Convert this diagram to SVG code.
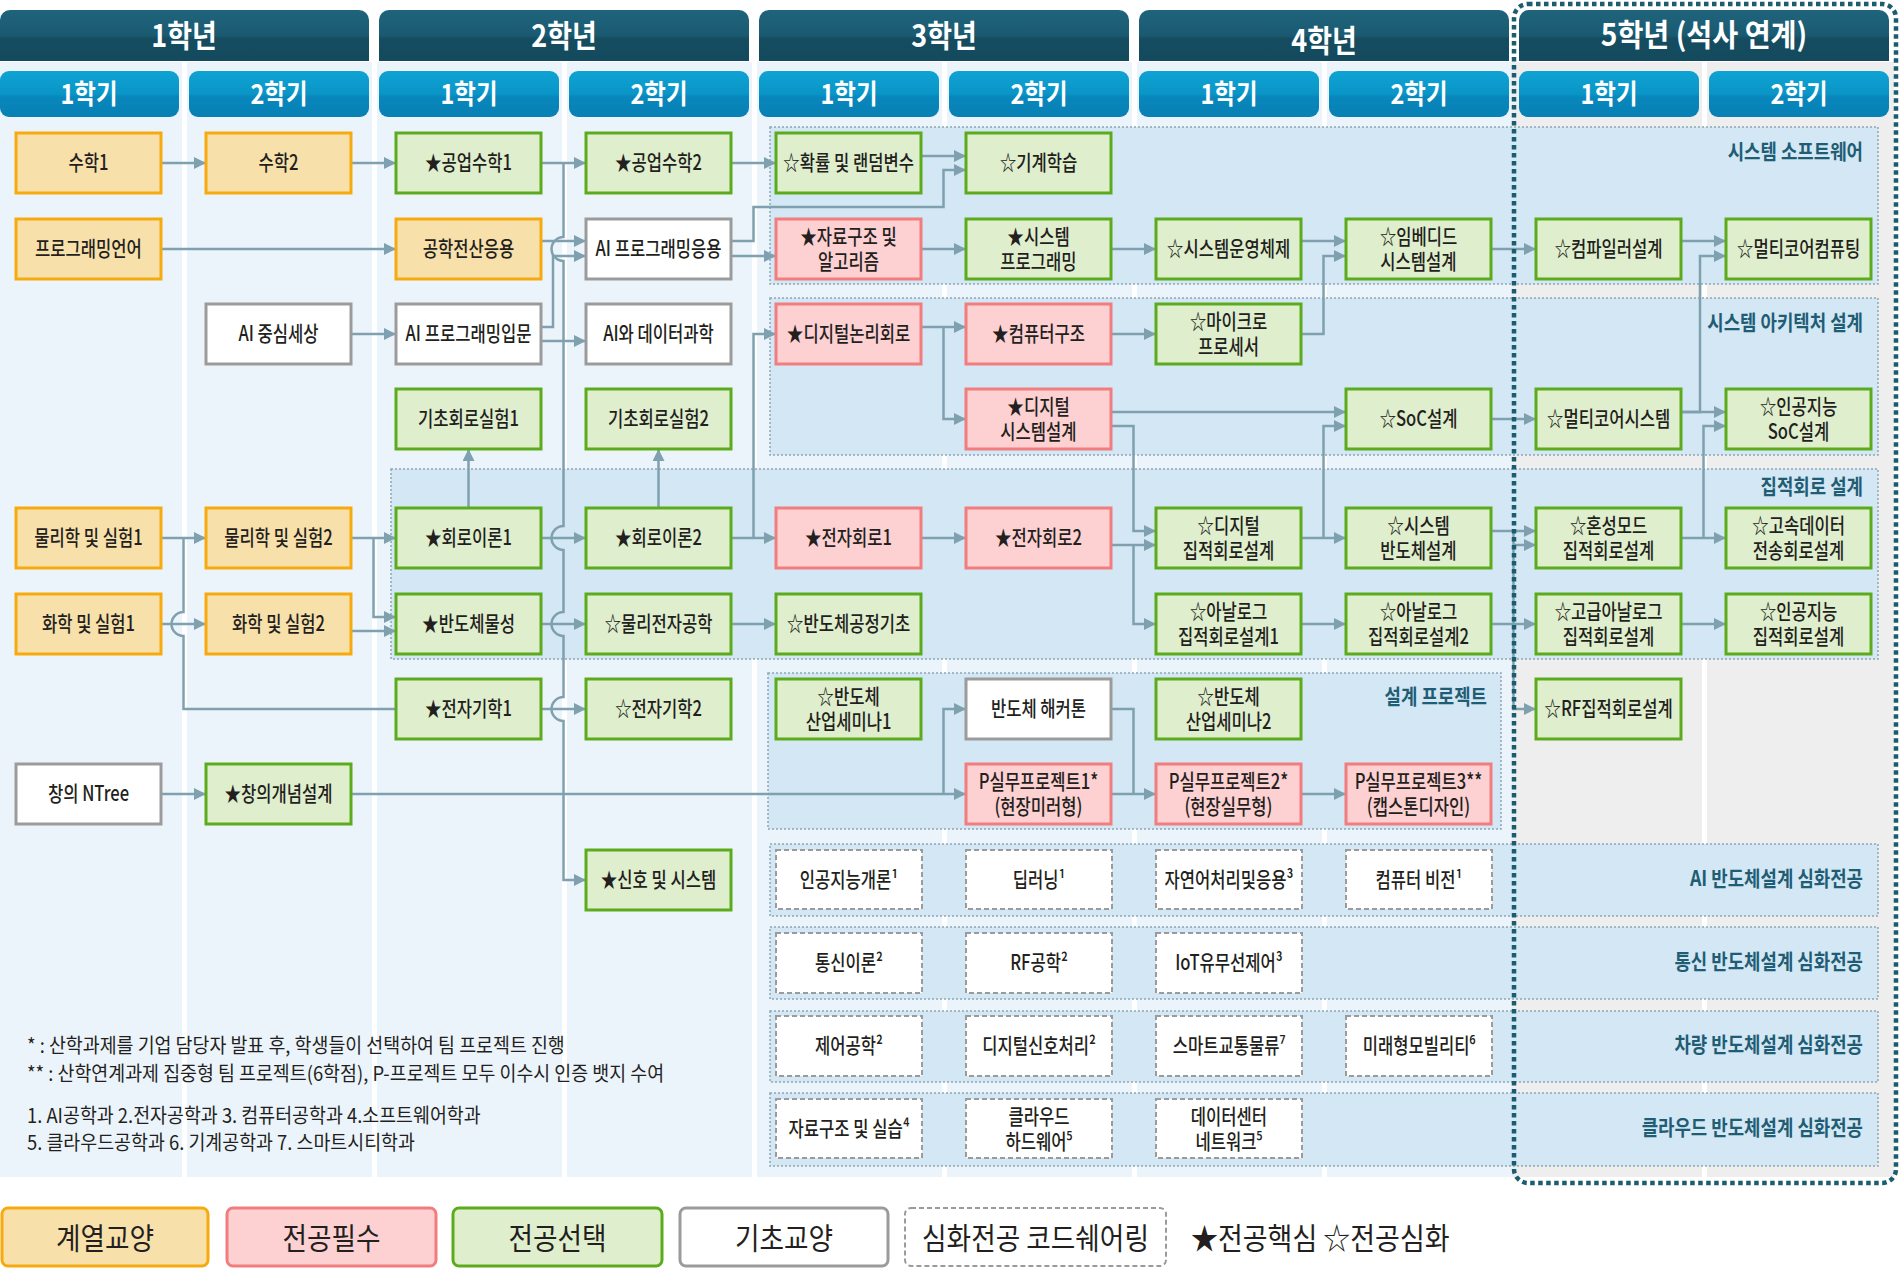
<svg xmlns="http://www.w3.org/2000/svg" width="1900" height="1271" viewBox="0 0 1900 1271">
<defs>
<linearGradient id="gy" x1="0" y1="0" x2="0" y2="1"><stop offset="0" stop-color="#1f647c"/><stop offset="0.5" stop-color="#1a5a71"/><stop offset="0.56" stop-color="#164c60"/><stop offset="1" stop-color="#144a5d"/></linearGradient>
<linearGradient id="gs" x1="0" y1="0" x2="0" y2="1"><stop offset="0" stop-color="#0ea3d3"/><stop offset="0.5" stop-color="#0a95c7"/><stop offset="0.56" stop-color="#0887bc"/><stop offset="1" stop-color="#0880b4"/></linearGradient>
<marker id="ah" markerUnits="userSpaceOnUse" markerWidth="12" markerHeight="12" refX="12" refY="6" orient="auto"><path d="M0,0 L12,6 L0,12 Z" fill="#7fa1af"/></marker>
<style>
.col{fill:#ecf4fb}
.col5{fill:#eeeeee}
.yh{fill:url(#gy)}
.sh{fill:url(#gs)}
.ht{font-family:"Noto Sans CJK KR","Noto Sans",sans-serif;font-weight:700;fill:#fff;text-anchor:middle;dominant-baseline:central;transform-box:fill-box;transform-origin:center}
.yt{font-size:31px;transform:translateY(-2px) scaleX(0.87)}
.yt5{font-size:31px;transform:translateY(-2px) scaleX(0.91)}
.st{font-size:27px;transform:translateY(-1.5px) scaleX(0.87)}
.pnl{fill:#d3e7f4;stroke:#8ea7b4;stroke-width:1.5;stroke-dasharray:2 2}
.pl{font-family:"Noto Sans CJK KR","Noto Sans",sans-serif;font-weight:700;font-size:21px;fill:#1f5d75;text-anchor:end;dominant-baseline:central;transform-box:fill-box;transform-origin:right center;transform:translateY(-2px) scaleX(0.85)}
.o{fill:#f8e0ab;stroke:#f6aa0e;stroke-width:3}
.p{fill:#fdd0d1;stroke:#f27d7e;stroke-width:3}
.g{fill:#dfeecd;stroke:#5cab1c;stroke-width:3}
.w{fill:#fff;stroke:#9b9b9b;stroke-width:3}
.d{fill:#fff;stroke:#9b9b9b;stroke-width:2;stroke-dasharray:5 3}
.t{font-family:"Noto Sans CJK KR","Noto Sans",sans-serif;font-weight:500;font-size:21px;fill:#231f20;text-anchor:middle;dominant-baseline:central;transform-box:fill-box;transform-origin:center;transform:translateY(-2px) scaleX(0.79)}
.cn{fill:none;stroke:#7fa1af;stroke-width:2.5}
.ar{marker-end:url(#ah)}
.nt{font-family:"Noto Sans CJK KR","Noto Sans",sans-serif;font-size:20px;fill:#231f20;dominant-baseline:central;transform-box:fill-box;transform-origin:left center;transform:translateY(-1px) scaleX(0.92)}
.lg{font-family:"Noto Sans CJK KR","Noto Sans",sans-serif;font-size:30px;fill:#231f20;text-anchor:middle;dominant-baseline:central;transform-box:fill-box;transform-origin:center;transform:translateY(-1px) scaleX(0.89)}
.lgl{font-family:"Noto Sans CJK KR","Noto Sans",sans-serif;font-size:30px;fill:#231f20;dominant-baseline:central;transform-box:fill-box;transform-origin:left center;transform:translateY(-1px) scaleX(0.9)}
.fr{fill:none;stroke:#1b5d70;stroke-width:4.5;stroke-dasharray:4.5 3.5}
</style>
</defs>
<rect width="1900" height="1271" fill="#fff"/>
<g id="columns">
<rect class="col" x="0" y="62" width="182" height="1115"/>
<rect class="col" x="187" y="62" width="185" height="1115"/>
<rect class="col" x="377" y="62" width="185" height="1115"/>
<rect class="col" x="567" y="62" width="185" height="1115"/>
<rect class="col" x="757" y="62" width="185" height="1115"/>
<rect class="col" x="947" y="62" width="185" height="1115"/>
<rect class="col" x="1137" y="62" width="185" height="1115"/>
<rect class="col" x="1327" y="62" width="185" height="1115"/>
<rect class="col5" x="1512" y="62" width="190" height="1115"/>
<rect class="col5" x="1707" y="62" width="187" height="1115"/>
</g>
<g id="headers">
<path class="yh" d="M0,61 V20 A10,10 0 0 1 10,10 H359 A10,10 0 0 1 369,20 V61 Z"/>
<path class="yh" d="M379,61 V20 A10,10 0 0 1 389,10 H739 A10,10 0 0 1 749,20 V61 Z"/>
<path class="yh" d="M759,61 V20 A10,10 0 0 1 769,10 H1119 A10,10 0 0 1 1129,20 V61 Z"/>
<path class="yh" d="M1139,61 V20 A10,10 0 0 1 1149,10 H1499 A10,10 0 0 1 1509,20 V61 Z"/>
<path class="yh" d="M1519,61 V20 A10,10 0 0 1 1529,10 H1879 A10,10 0 0 1 1889,20 V61 Z"/>
<text class="ht yt" x="184" y="35">1학년</text>
<text class="ht yt" x="564" y="35">2학년</text>
<text class="ht yt" x="944" y="35">3학년</text>
<text class="ht yt" x="1324" y="40">4학년</text>
<text class="ht yt5" x="1704" y="35">5학년 (석사 연계)</text>
<rect class="sh" x="0" y="71" width="179" height="46" rx="9"/>
<rect class="sh" x="189" y="71" width="180" height="46" rx="9"/>
<rect class="sh" x="379" y="71" width="180" height="46" rx="9"/>
<rect class="sh" x="569" y="71" width="180" height="46" rx="9"/>
<rect class="sh" x="759" y="71" width="180" height="46" rx="9"/>
<rect class="sh" x="949" y="71" width="180" height="46" rx="9"/>
<rect class="sh" x="1139" y="71" width="180" height="46" rx="9"/>
<rect class="sh" x="1329" y="71" width="180" height="46" rx="9"/>
<rect class="sh" x="1519" y="71" width="180" height="46" rx="9"/>
<rect class="sh" x="1709" y="71" width="180" height="46" rx="9"/>
<text class="ht st" x="89" y="94">1학기</text>
<text class="ht st" x="279" y="94">2학기</text>
<text class="ht st" x="469" y="94">1학기</text>
<text class="ht st" x="659" y="94">2학기</text>
<text class="ht st" x="849" y="94">1학기</text>
<text class="ht st" x="1039" y="94">2학기</text>
<text class="ht st" x="1229" y="94">1학기</text>
<text class="ht st" x="1419" y="94">2학기</text>
<text class="ht st" x="1609" y="94">1학기</text>
<text class="ht st" x="1799" y="94">2학기</text>
</g>
<g id="panels">
<rect class="pnl" x="770" y="127" width="1108" height="157"/>
<rect class="pnl" x="770" y="298" width="1108" height="157"/>
<rect class="pnl" x="391" y="469" width="1487" height="190"/>
<rect class="pnl" x="768" y="673" width="733" height="156"/>
<rect class="pnl" x="770" y="844" width="1108" height="72"/>
<rect class="pnl" x="770" y="927" width="1108" height="72"/>
<rect class="pnl" x="770" y="1011" width="1108" height="71"/>
<rect class="pnl" x="770" y="1093" width="1108" height="73"/>
<text class="pl" x="1863" y="152">시스템 소프트웨어</text>
<text class="pl" x="1863" y="323">시스템 아키텍처 설계</text>
<text class="pl" x="1863" y="487">집적회로 설계</text>
<text class="pl" x="1487" y="697">설계 프로젝트</text>
<text class="pl" x="1863" y="879">AI 반도체설계 심화전공</text>
<text class="pl" x="1863" y="962">통신 반도체설계 심화전공</text>
<text class="pl" x="1863" y="1045">차량 반도체설계 심화전공</text>
<text class="pl" x="1863" y="1128">클라우드 반도체설계 심화전공</text>
</g>
<g id="connectors">
<path class="cn ar" d="M161,163 H206"/>
<path class="cn ar" d="M351,163 H396"/>
<path class="cn ar" d="M541,163 H586"/>
<path class="cn ar" d="M563.5,163 V237 A12,12 0 0 0 563.5,261 V526 A12,12 0 0 0 563.5,550 V612 A12,12 0 0 0 563.5,636 V697 A12,12 0 0 0 563.5,721 V880 H586"/>
<path class="cn ar" d="M161,249 H396"/>
<path class="cn ar" d="M541,241 H586"/>
<path class="cn ar" d="M541,327 H553 V256 H586"/>
<path class="cn ar" d="M541,341 H586"/>
<path class="cn ar" d="M351,334 H396"/>
<path class="cn ar" d="M731,163 H776"/>
<path class="cn ar" d="M921,156 H966"/>
<path class="cn ar" d="M731,241 H753.5 V207 H943.5 V170 H966"/>
<path class="cn ar" d="M731,256 H776"/>
<path class="cn ar" d="M921,249 H966"/>
<path class="cn ar" d="M1111,249 H1156"/>
<path class="cn ar" d="M1301,241 H1346"/>
<path class="cn ar" d="M1301,334 H1323.5 V256 H1346"/>
<path class="cn ar" d="M1491,249 H1536"/>
<path class="cn ar" d="M1681,241 H1726"/>
<path class="cn ar" d="M1681,412 H1700 V256 H1726"/>
<path class="cn ar" d="M1681,412 H1726"/>
<path class="cn ar" d="M1491,419 H1536"/>
<path class="cn ar" d="M921,327 H966"/>
<path class="cn ar" d="M943.5,327 V419 H966"/>
<path class="cn ar" d="M1111,334 H1156"/>
<path class="cn ar" d="M1111,412 H1346"/>
<path class="cn ar" d="M1111,426 H1133.5 V531 H1156"/>
<path class="cn ar" d="M1111,545 H1156"/>
<path class="cn ar" d="M1133.5,545 V624 H1156"/>
<path class="cn ar" d="M921,538 H966"/>
<path class="cn ar" d="M731,538 H776"/>
<path class="cn ar" d="M753.5,538 V334 H776"/>
<path class="cn ar" d="M1301,538 H1346"/>
<path class="cn ar" d="M1323.5,538 V426 H1346"/>
<path class="cn ar" d="M1301,624 H1346"/>
<path class="cn ar" d="M1491,531 H1536"/>
<path class="cn ar" d="M1513.5,531 V709 H1536"/>
<path class="cn ar" d="M1513.5,545 H1536"/>
<path class="cn ar" d="M1491,624 H1536"/>
<path class="cn ar" d="M1681,538 H1726"/>
<path class="cn ar" d="M1703.5,538 V426 H1726"/>
<path class="cn ar" d="M1681,624 H1726"/>
<path class="cn ar" d="M161,538 H206"/>
<path class="cn" d="M183.5,538 V612 A12,12 0 0 0 183.5,636 V709 H396"/>
<path class="cn ar" d="M161,624 H206"/>
<path class="cn ar" d="M351,538 H396"/>
<path class="cn ar" d="M373.5,538 V617 H396"/>
<path class="cn ar" d="M351,631 H396"/>
<path class="cn ar" d="M541,538 H586"/>
<path class="cn ar" d="M541,624 H586"/>
<path class="cn ar" d="M541,709 H586"/>
<path class="cn ar" d="M468.5,508 V449"/>
<path class="cn ar" d="M658.5,508 V449"/>
<path class="cn ar" d="M731,624 H776"/>
<path class="cn ar" d="M161,794 H206"/>
<path class="cn ar" d="M351,794 H966"/>
<path class="cn ar" d="M943.5,794 V709 H966"/>
<path class="cn ar" d="M1111,794 H1156"/>
<path class="cn" d="M1111,709 H1133.5 V794"/>
<path class="cn ar" d="M1301,794 H1346"/>
</g>
<g id="n-math1"><rect class="o" x="16" y="133" width="145" height="60"/><text class="t" x="88.5" y="163">수학1</text></g>
<g id="n-math2"><rect class="o" x="206" y="133" width="145" height="60"/><text class="t" x="278.5" y="163">수학2</text></g>
<g id="n-engmath1"><rect class="g" x="396" y="133" width="145" height="60"/><text class="t" x="468.5" y="163">★공업수학1</text></g>
<g id="n-engmath2"><rect class="g" x="586" y="133" width="145" height="60"/><text class="t" x="658.5" y="163">★공업수학2</text></g>
<g id="n-prob"><rect class="g" x="776" y="133" width="145" height="60"/><text class="t" x="848.5" y="163">☆확률 및 랜덤변수</text></g>
<g id="n-ml"><rect class="g" x="966" y="133" width="145" height="60"/><text class="t" x="1038.5" y="163">☆기계학습</text></g>
<g id="n-proglang"><rect class="o" x="16" y="219" width="145" height="60"/><text class="t" x="88.5" y="249">프로그래밍언어</text></g>
<g id="n-engcomp"><rect class="o" x="396" y="219" width="145" height="60"/><text class="t" x="468.5" y="249">공학전산응용</text></g>
<g id="n-aiprogapp"><rect class="w" x="586" y="219" width="145" height="60"/><text class="t" x="658.5" y="249">AI 프로그래밍응용</text></g>
<g id="n-dsa"><rect class="p" x="776" y="219" width="145" height="60"/><text class="t" x="848.5" y="236.5">★자료구조 및<tspan x="848.5" y="261.5">알고리즘</tspan></text></g>
<g id="n-sysprog"><rect class="g" x="966" y="219" width="145" height="60"/><text class="t" x="1038.5" y="236.5">★시스템<tspan x="1038.5" y="261.5">프로그래밍</tspan></text></g>
<g id="n-os"><rect class="g" x="1156" y="219" width="145" height="60"/><text class="t" x="1228.5" y="249">☆시스템운영체제</text></g>
<g id="n-embedded"><rect class="g" x="1346" y="219" width="145" height="60"/><text class="t" x="1418.5" y="236.5">☆임베디드<tspan x="1418.5" y="261.5">시스템설계</tspan></text></g>
<g id="n-compiler"><rect class="g" x="1536" y="219" width="145" height="60"/><text class="t" x="1608.5" y="249">☆컴파일러설계</text></g>
<g id="n-multicorecomp"><rect class="g" x="1726" y="219" width="145" height="60"/><text class="t" x="1798.5" y="249">☆멀티코어컴퓨팅</text></g>
<g id="n-aiworld"><rect class="w" x="206" y="304" width="145" height="60"/><text class="t" x="278.5" y="334">AI 중심세상</text></g>
<g id="n-aiprogintro"><rect class="w" x="396" y="304" width="145" height="60"/><text class="t" x="468.5" y="334">AI 프로그래밍입문</text></g>
<g id="n-aidata"><rect class="w" x="586" y="304" width="145" height="60"/><text class="t" x="658.5" y="334">AI와 데이터과학</text></g>
<g id="n-digilogic"><rect class="p" x="776" y="304" width="145" height="60"/><text class="t" x="848.5" y="334">★디지털논리회로</text></g>
<g id="n-comparch"><rect class="p" x="966" y="304" width="145" height="60"/><text class="t" x="1038.5" y="334">★컴퓨터구조</text></g>
<g id="n-micro"><rect class="g" x="1156" y="304" width="145" height="60"/><text class="t" x="1228.5" y="321.5">☆마이크로<tspan x="1228.5" y="346.5">프로세서</tspan></text></g>
<g id="n-lab1"><rect class="g" x="396" y="389" width="145" height="60"/><text class="t" x="468.5" y="419">기초회로실험1</text></g>
<g id="n-lab2"><rect class="g" x="586" y="389" width="145" height="60"/><text class="t" x="658.5" y="419">기초회로실험2</text></g>
<g id="n-digisys"><rect class="p" x="966" y="389" width="145" height="60"/><text class="t" x="1038.5" y="406.5">★디지털<tspan x="1038.5" y="431.5">시스템설계</tspan></text></g>
<g id="n-soc"><rect class="g" x="1346" y="389" width="145" height="60"/><text class="t" x="1418.5" y="419">☆SoC설계</text></g>
<g id="n-multicoresys"><rect class="g" x="1536" y="389" width="145" height="60"/><text class="t" x="1608.5" y="419">☆멀티코어시스템</text></g>
<g id="n-aisoc"><rect class="g" x="1726" y="389" width="145" height="60"/><text class="t" x="1798.5" y="406.5">☆인공지능<tspan x="1798.5" y="431.5">SoC설계</tspan></text></g>
<g id="n-phys1"><rect class="o" x="16" y="508" width="145" height="60"/><text class="t" x="88.5" y="538">물리학 및 실험1</text></g>
<g id="n-phys2"><rect class="o" x="206" y="508" width="145" height="60"/><text class="t" x="278.5" y="538">물리학 및 실험2</text></g>
<g id="n-circ1"><rect class="g" x="396" y="508" width="145" height="60"/><text class="t" x="468.5" y="538">★회로이론1</text></g>
<g id="n-circ2"><rect class="g" x="586" y="508" width="145" height="60"/><text class="t" x="658.5" y="538">★회로이론2</text></g>
<g id="n-elec1"><rect class="p" x="776" y="508" width="145" height="60"/><text class="t" x="848.5" y="538">★전자회로1</text></g>
<g id="n-elec2"><rect class="p" x="966" y="508" width="145" height="60"/><text class="t" x="1038.5" y="538">★전자회로2</text></g>
<g id="n-digiic"><rect class="g" x="1156" y="508" width="145" height="60"/><text class="t" x="1228.5" y="525.5">☆디지털<tspan x="1228.5" y="550.5">집적회로설계</tspan></text></g>
<g id="n-syssemi"><rect class="g" x="1346" y="508" width="145" height="60"/><text class="t" x="1418.5" y="525.5">☆시스템<tspan x="1418.5" y="550.5">반도체설계</tspan></text></g>
<g id="n-mixed"><rect class="g" x="1536" y="508" width="145" height="60"/><text class="t" x="1608.5" y="525.5">☆혼성모드<tspan x="1608.5" y="550.5">집적회로설계</tspan></text></g>
<g id="n-highspeed"><rect class="g" x="1726" y="508" width="145" height="60"/><text class="t" x="1798.5" y="525.5">☆고속데이터<tspan x="1798.5" y="550.5">전송회로설계</tspan></text></g>
<g id="n-chem1"><rect class="o" x="16" y="594" width="145" height="60"/><text class="t" x="88.5" y="624">화학 및 실험1</text></g>
<g id="n-chem2"><rect class="o" x="206" y="594" width="145" height="60"/><text class="t" x="278.5" y="624">화학 및 실험2</text></g>
<g id="n-semimat"><rect class="g" x="396" y="594" width="145" height="60"/><text class="t" x="468.5" y="624">★반도체물성</text></g>
<g id="n-physelec"><rect class="g" x="586" y="594" width="145" height="60"/><text class="t" x="658.5" y="624">☆물리전자공학</text></g>
<g id="n-process"><rect class="g" x="776" y="594" width="145" height="60"/><text class="t" x="848.5" y="624">☆반도체공정기초</text></g>
<g id="n-analog1"><rect class="g" x="1156" y="594" width="145" height="60"/><text class="t" x="1228.5" y="611.5">☆아날로그<tspan x="1228.5" y="636.5">집적회로설계1</tspan></text></g>
<g id="n-analog2"><rect class="g" x="1346" y="594" width="145" height="60"/><text class="t" x="1418.5" y="611.5">☆아날로그<tspan x="1418.5" y="636.5">집적회로설계2</tspan></text></g>
<g id="n-advanalog"><rect class="g" x="1536" y="594" width="145" height="60"/><text class="t" x="1608.5" y="611.5">☆고급아날로그<tspan x="1608.5" y="636.5">집적회로설계</tspan></text></g>
<g id="n-aiic"><rect class="g" x="1726" y="594" width="145" height="60"/><text class="t" x="1798.5" y="611.5">☆인공지능<tspan x="1798.5" y="636.5">집적회로설계</tspan></text></g>
<g id="n-em1"><rect class="g" x="396" y="679" width="145" height="60"/><text class="t" x="468.5" y="709">★전자기학1</text></g>
<g id="n-em2"><rect class="g" x="586" y="679" width="145" height="60"/><text class="t" x="658.5" y="709">☆전자기학2</text></g>
<g id="n-seminar1"><rect class="g" x="776" y="679" width="145" height="60"/><text class="t" x="848.5" y="696.5">☆반도체<tspan x="848.5" y="721.5">산업세미나1</tspan></text></g>
<g id="n-hackathon"><rect class="w" x="966" y="679" width="145" height="60"/><text class="t" x="1038.5" y="709">반도체 해커톤</text></g>
<g id="n-seminar2"><rect class="g" x="1156" y="679" width="145" height="60"/><text class="t" x="1228.5" y="696.5">☆반도체<tspan x="1228.5" y="721.5">산업세미나2</tspan></text></g>
<g id="n-rfic"><rect class="g" x="1536" y="679" width="145" height="60"/><text class="t" x="1608.5" y="709">☆RF집적회로설계</text></g>
<g id="n-ntree"><rect class="w" x="16" y="764" width="145" height="60"/><text class="t" x="88.5" y="794">창의 NTree</text></g>
<g id="n-creative"><rect class="g" x="206" y="764" width="145" height="60"/><text class="t" x="278.5" y="794">★창의개념설계</text></g>
<g id="n-p1"><rect class="p" x="966" y="764" width="145" height="60"/><text class="t" x="1038.5" y="781.5">P실무프로젝트1*<tspan x="1038.5" y="806.5">(현장미러형)</tspan></text></g>
<g id="n-p2"><rect class="p" x="1156" y="764" width="145" height="60"/><text class="t" x="1228.5" y="781.5">P실무프로젝트2*<tspan x="1228.5" y="806.5">(현장실무형)</tspan></text></g>
<g id="n-p3"><rect class="p" x="1346" y="764" width="145" height="60"/><text class="t" x="1418.5" y="781.5">P실무프로젝트3**<tspan x="1418.5" y="806.5">(캡스톤디자인)</tspan></text></g>
<g id="n-signal"><rect class="g" x="586" y="850" width="145" height="60"/><text class="t" x="658.5" y="880">★신호 및 시스템</text></g>
<g id="n-aiintro"><rect class="d" x="776" y="850" width="146" height="59"/><text class="t" x="849" y="880">인공지능개론¹</text></g>
<g id="n-dl"><rect class="d" x="966" y="850" width="146" height="59"/><text class="t" x="1039" y="880">딥러닝¹</text></g>
<g id="n-nlp"><rect class="d" x="1156" y="850" width="146" height="59"/><text class="t" x="1229" y="880">자연어처리및응용³</text></g>
<g id="n-cv"><rect class="d" x="1346" y="850" width="146" height="59"/><text class="t" x="1419" y="880">컴퓨터 비전¹</text></g>
<g id="n-comm"><rect class="d" x="776" y="933" width="146" height="60"/><text class="t" x="849" y="963">통신이론²</text></g>
<g id="n-rf"><rect class="d" x="966" y="933" width="146" height="60"/><text class="t" x="1039" y="963">RF공학²</text></g>
<g id="n-iot"><rect class="d" x="1156" y="933" width="146" height="60"/><text class="t" x="1229" y="963">IoT유무선제어³</text></g>
<g id="n-control"><rect class="d" x="776" y="1016" width="146" height="60"/><text class="t" x="849" y="1046">제어공학²</text></g>
<g id="n-dsp"><rect class="d" x="966" y="1016" width="146" height="60"/><text class="t" x="1039" y="1046">디지털신호처리²</text></g>
<g id="n-traffic"><rect class="d" x="1156" y="1016" width="146" height="60"/><text class="t" x="1229" y="1046">스마트교통물류⁷</text></g>
<g id="n-mobility"><rect class="d" x="1346" y="1016" width="146" height="60"/><text class="t" x="1419" y="1046">미래형모빌리티⁶</text></g>
<g id="n-dslab"><rect class="d" x="776" y="1099" width="146" height="59"/><text class="t" x="849" y="1129">자료구조 및 실습⁴</text></g>
<g id="n-cloudhw"><rect class="d" x="966" y="1099" width="146" height="59"/><text class="t" x="1039" y="1116.5">클라우드<tspan x="1039" y="1141.5">하드웨어⁵</tspan></text></g>
<g id="n-dcnet"><rect class="d" x="1156" y="1099" width="146" height="59"/><text class="t" x="1229" y="1116.5">데이터센터<tspan x="1229" y="1141.5">네트워크⁵</tspan></text></g>
<rect class="fr" x="1514" y="4" width="382" height="1179" rx="14"/>
<g id="notes">
<text class="nt" x="27" y="1046">* : 산학과제를 기업 담당자 발표 후, 학생들이 선택하여 팀 프로젝트 진행</text>
<text class="nt" x="27" y="1074">** : 산학연계과제 집중형 팀 프로젝트(6학점), P-프로젝트 모두 이수시 인증 뱃지 수여</text>
<text class="nt" x="27" y="1116">1. AI공학과 2.전자공학과 3. 컴퓨터공학과 4.소프트웨어학과</text>
<text class="nt" x="27" y="1143">5. 클라우드공학과 6. 기계공학과 7. 스마트시티학과</text>
</g>
<g id="legend">
<rect class="o" x="2" y="1208" width="206" height="58" rx="6"/><text class="lg" x="105" y="1237">계열교양</text>
<rect class="p" x="227" y="1208" width="209" height="58" rx="6"/><text class="lg" x="331.5" y="1237">전공필수</text>
<rect class="g" x="453" y="1208" width="209" height="58" rx="6"/><text class="lg" x="557.5" y="1237">전공선택</text>
<rect class="w" x="680" y="1208" width="208" height="58" rx="6"/><text class="lg" x="784" y="1237">기초교양</text>
<rect class="d" x="905" y="1208" width="261" height="58" rx="6"/><text class="lg" x="1035.5" y="1237">심화전공 코드쉐어링</text>
<text class="lgl" x="1191" y="1237">★전공핵심 ☆전공심화</text>
</g>
</svg>
